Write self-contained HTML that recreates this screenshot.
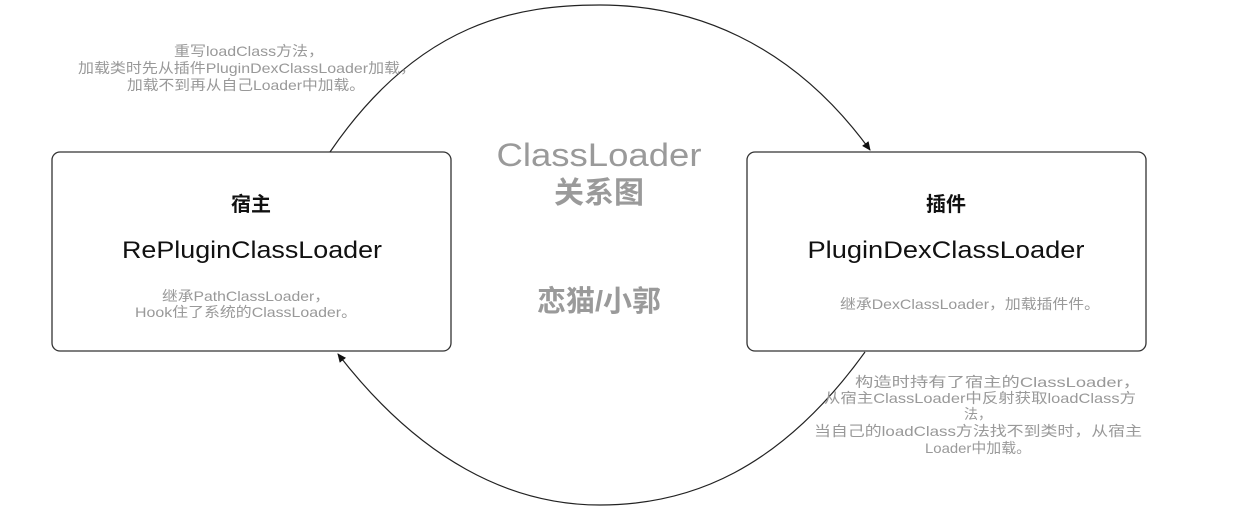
<!DOCTYPE html>
<html><head><meta charset="utf-8"><style>
html,body{margin:0;padding:0;background:#fff;}
text{font-family:"Liberation Sans","Noto Sans CJK SC",sans-serif;}
</style></head><body>
<svg width="1240" height="520" xmlns="http://www.w3.org/2000/svg">
<defs><marker id="a" markerWidth="10" markerHeight="10" refX="8" refY="5" orient="auto" markerUnits="userSpaceOnUse"><path d="M0,1 L9,5 L0,9 Z" fill="#111"/></marker></defs>
<rect x="52" y="152" width="399" height="199" rx="8" fill="#fff" stroke="#333" stroke-width="1.3"/>
<rect x="747" y="152" width="399" height="199" rx="8" fill="#fff" stroke="#333" stroke-width="1.3"/>
<path d="M330,152 C420,20 520,5 600,5 C690,5 790,40 870,150" fill="none" stroke="#222" stroke-width="1.2" marker-end="url(#a)"/>
<path d="M865,352 C780,470 690,505 600,505 C510,505 420,460 338,354" fill="none" stroke="#222" stroke-width="1.2" marker-end="url(#a)"/>
<g fill="#999" font-size="14" text-anchor="middle">
<text x="249" y="56" textLength="150" lengthAdjust="spacingAndGlyphs">重写loadClass方法，</text>
<text x="247" y="73" textLength="338" lengthAdjust="spacingAndGlyphs">加载类时先从插件PluginDexClassLoader加载，</text>
<text x="246" y="90" textLength="238" lengthAdjust="spacingAndGlyphs">加载不到再从自己Loader中加载。</text>
<text x="998" y="387" textLength="286" lengthAdjust="spacingAndGlyphs">构造时持有了宿主的ClassLoader，</text>
<text x="980" y="403" textLength="312" lengthAdjust="spacingAndGlyphs">从宿主ClassLoader中反射获取loadClass方</text>
<text x="978" y="419">法，</text>
<text x="978" y="436" textLength="328" lengthAdjust="spacingAndGlyphs">当自己的loadClass方法找不到类时，从宿主</text>
<text x="978" y="453" textLength="106" lengthAdjust="spacingAndGlyphs">Loader中加载。</text>
<text x="246" y="301" textLength="168" lengthAdjust="spacingAndGlyphs">继承PathClassLoader，</text>
<text x="246" y="317" textLength="222" lengthAdjust="spacingAndGlyphs">Hook住了系统的ClassLoader。</text>
<text x="970" y="309" textLength="260" lengthAdjust="spacingAndGlyphs">继承DexClassLoader，加载插件件。</text>
</g>
<g fill="#111" text-anchor="middle">
<text x="251" y="211" font-size="20" font-weight="bold">宿主</text>
<text x="252" y="258" font-size="24" textLength="260" lengthAdjust="spacingAndGlyphs">RePluginClassLoader</text>
<text x="946" y="211" font-size="20" font-weight="bold">插件</text>
<text x="946" y="258" font-size="24" textLength="277" lengthAdjust="spacingAndGlyphs">PluginDexClassLoader</text>
</g>
<g fill="#9a9a9a" text-anchor="middle">
<text x="599" y="166" font-size="32" textLength="205" lengthAdjust="spacingAndGlyphs">ClassLoader</text>
<text x="599" y="203" font-size="30" font-weight="bold">关系图</text>
<text x="599" y="311" font-size="29" font-weight="bold">恋猫/小郭</text>
</g>
</svg>
</body></html>
